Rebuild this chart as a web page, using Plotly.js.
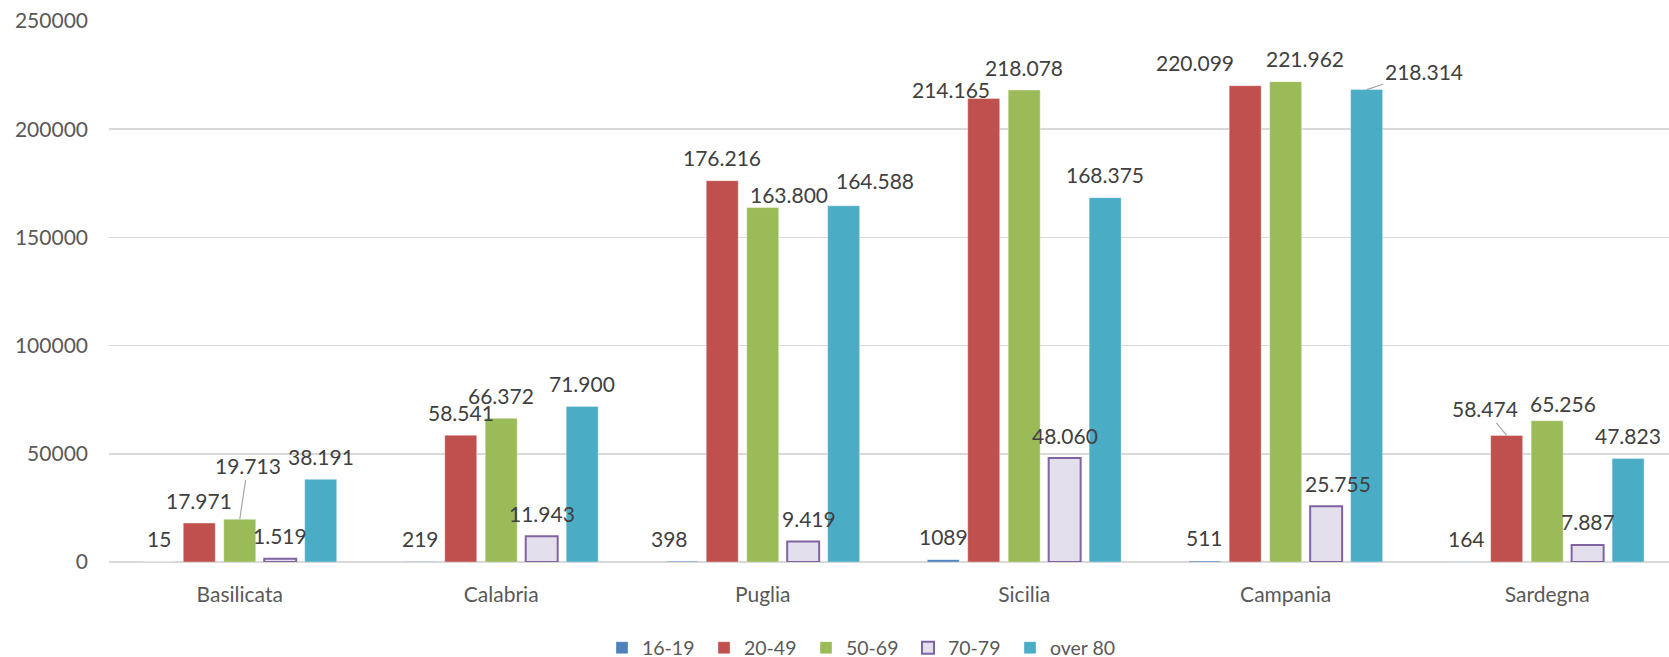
<!DOCTYPE html>
<html>
<head>
<meta charset="utf-8">
<script src="https://cdn.plot.ly/plotly-3.0.1.min.js"></script>
<style>
  html, body { margin: 0; padding: 0; background: #ffffff; }
  #chart { width: 1669px; height: 657px; }
</style>
</head>
<body>
<div id="chart"></div>
<script>
// ---- data ----
const categories = ['Basilicata', 'Calabria', 'Puglia', 'Sicilia', 'Campania', 'Sardegna'];
const seriesNames = ['16-19', '20-49', '50-69', '70-79', 'over 80'];
const age16_19 = [15, 219, 398, 1089, 511, 164];
const age20_49 = [17971, 58541, 176216, 214165, 220099, 58474];
const age50_69 = [19713, 66372, 163800, 218078, 221962, 65256];
const age70_79 = [1519, 11943, 9419, 48060, 25755, 7887];
const ageOver80 = [38191, 71900, 164588, 168375, 218314, 47823];
const yTickVals = [0, 50000, 100000, 150000, 200000, 250000];

const seriesValues = [age16_19, age20_49, age50_69, age70_79, ageOver80];

// ---- styles ----
const fills = ['#4F81BD', '#C0504D', '#9BBB59', '#E4DFEC', '#4BACC6'];
const outlines = ['rgba(255,255,255,0.35)', 'rgba(255,255,255,0.35)', 'rgba(255,255,255,0.35)', '#8064A2', 'rgba(255,255,255,0.35)'];
const outlineW = [1, 1, 1, 2, 1];
const useGrouping = [false, true, true, true, true];
const legendWidths = [57, 57, 57, 57, 90];

const FONT = 'Lato, "Open Sans", sans-serif';
const BARGAP = 0.226;
const slot = (1 - BARGAP) / seriesNames.length;

// label nudges (pixels): dx right, dy down; leader = leader-line label with offsets ax/ay
const labelStyle = {
  '0-2': {dx: -12},
  '2-2': {dx: 26, dy: 9.5},
  '3-2': {dx: 6},
  '4-2': {dx: 31, dy: -2},
  '1-3': {dx: -33, dy: 13.5},
  '1-4': {dx: -50},
  '2-4': {dx: 19},
  '3-4': {dx: 12},
  '2-5': {dx: 16, dy: 6},
  '2-0': {leader: true, ax: 8, ay: -55},
  '1-5': {leader: true, ax: -22, ay: -28},
  '4-4': {leader: true, ax: 57, ay: -20}
};
const BASE_UP = 24.5;   // digits centre above bar top
const BOX_ADJ = 1.5;    // box centre vs digit centre

function fmt(v, grouped) {
  const s = String(v);
  return grouped ? s.replace(/\B(?=(\d{3})+(?!\d))/g, '.') : s;
}

const traces = seriesNames.map((name, i) => ({
  type: 'bar',
  name: name,
  x: categories,
  y: seriesValues[i],
  legendwidth: legendWidths[i],
  marker: {color: fills[i], line: {color: outlines[i], width: outlineW[i]}},
  hoverinfo: 'x+y+name'
}));

const annotations = [];
seriesValues.forEach((vals, i) => {
  vals.forEach((v, c) => {
    const st = labelStyle[i + '-' + c] || {};
    const xPos = c + (i - (seriesNames.length - 1) / 2) * slot;
    const base = {
      x: xPos, y: v, xref: 'x', yref: 'y',
      text: fmt(v, useGrouping[i]),
      font: {family: FONT, size: 21, color: '#404040'},
      xanchor: 'center', yanchor: 'middle'
    };
    if (st.leader) {
      annotations.push(Object.assign(base, {
        showarrow: true, arrowhead: 0, arrowwidth: 1.2, arrowcolor: '#a6a6a6',
        ax: st.ax, ay: st.ay + BOX_ADJ, standoff: 0, startstandoff: 0
      }));
    } else {
      annotations.push(Object.assign(base, {
        showarrow: false,
        xshift: st.dx || 0,
        yshift: BASE_UP - (st.dy || 0) - BOX_ADJ
      }));
    }
  });
});

const layout = {
  width: 1669,
  height: 657,
  margin: {l: 109, r: 0, t: 20.7, b: 94.7, pad: 0},
  paper_bgcolor: '#ffffff',
  plot_bgcolor: '#ffffff',
  barmode: 'group',
  bargap: BARGAP,
  bargroupgap: 0.21,
  showlegend: true,
  legend: {
    orientation: 'h',
    xref: 'container', yref: 'container',
    x: 602 / 1669, xanchor: 'left',
    y: 9 / 657, yanchor: 'middle',
    font: {family: FONT, size: 19.5, color: '#595959'},
    traceorder: 'normal'
  },
  xaxis: {
    type: 'category',
    range: [-0.5, 5.466],
    showgrid: false,
    zeroline: false,
    showline: false,
    ticks: '',
    ticklabelstandoff: 18,
    tickfont: {family: FONT, size: 21, color: '#595959'},
    fixedrange: true
  },
  yaxis: {
    range: [0, 250000],
    tickvals: yTickVals,
    ticktext: yTickVals.map(v => String(v)),
    showgrid: true,
    gridcolor: '#d9d9d9',
    gridwidth: 1.6,
    zeroline: true,
    zerolinecolor: '#d9d9d9',
    zerolinewidth: 1.6,
    showline: false,
    ticks: '',
    ticklabelstandoff: 20,
    tickfont: {family: FONT, size: 21, color: '#595959'},
    fixedrange: true
  },
  annotations: annotations
};

Plotly.newPlot('chart', traces, layout, {displayModeBar: false, staticPlot: true});
</script>
</body>
</html>
